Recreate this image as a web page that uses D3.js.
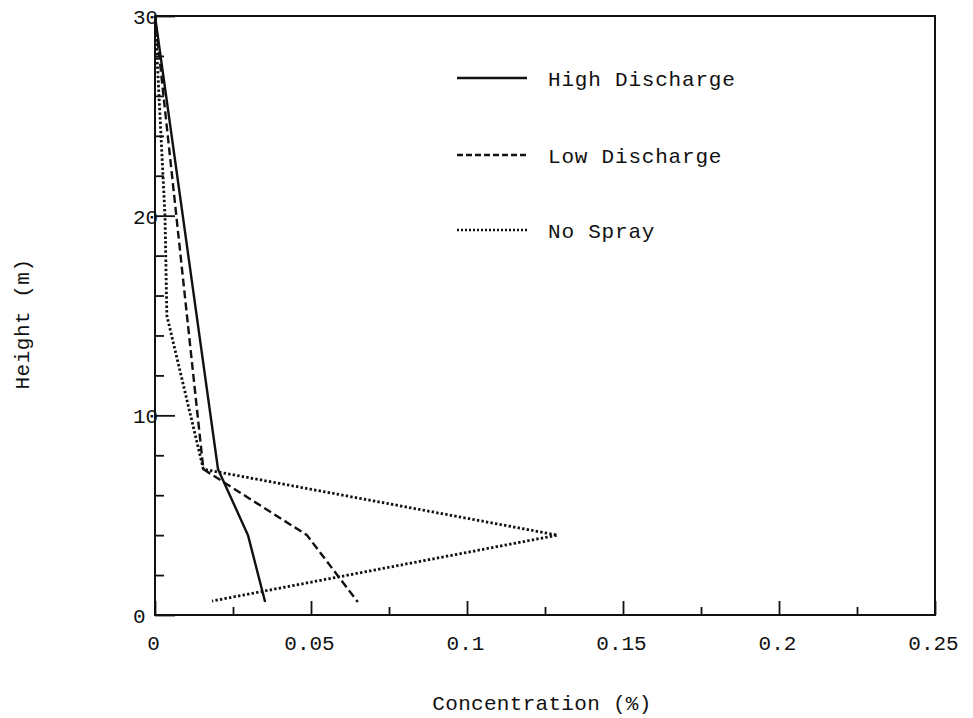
<!DOCTYPE html>
<html>
<head>
<meta charset="utf-8">
<script src="https://cdn.jsdelivr.net/npm/d3@7"></script>
<style>
  html, body { margin: 0; padding: 0; background: #fff; }
  text { font-family: "Liberation Mono", "DejaVu Sans Mono", monospace; fill: #111; }
</style>
</head>
<body>
<svg id="chart" width="973" height="718"></svg>
<script>
// ---- data ----
const seriesNames = ["High Discharge", "Low Discharge", "No Spray"];
const highConc   = [0, 0.0202, 0.0298, 0.0353];
const highHeight = [30, 7.3, 4.0, 0.65];
const lowConc    = [0, 0.0155, 0.0487, 0.065];
const lowHeight  = [30, 7.3, 4.0, 0.65];
const noConc     = [0, 0.0032, 0.0038, 0.0155, 0.129, 0.0183];
const noHeight   = [30, 20, 15, 7.3, 4.0, 0.7];
const xMajorTicks = [0, 0.05, 0.1, 0.15, 0.2, 0.25];
const xTickLabels = ["0", "0.05", "0.1", "0.15", "0.2", "0.25"];
const xMinorTicks = [0.025, 0.075, 0.125, 0.175, 0.225];
const yMajorTicks = [0, 10, 20, 30];
const yTickLabels = ["0", "10", "20", "30"];
const yMinorTicks = [2, 4, 6, 8, 12, 14, 16, 18, 22, 24, 26, 28];
const xTitle = "Concentration (%)";
const yTitle = "Height (m)";

(function () {
const svg = d3.select("#chart");
const mLeft = 155, mRight = 935, mTop = 16, mBottom = 615;
const x = d3.scaleLinear().domain([0, 0.25]).range([mLeft, mRight]);
const y = d3.scaleLinear().domain([0, 30]).range([mBottom, mTop]);

const styles = [
  { dash: null, width: 2.4 },
  { dash: "8,4", width: 2.4 },
  { dash: "2.4,2.2", width: 2.8 }
];

// frame
svg.append("rect")
  .attr("x", mLeft).attr("y", mTop)
  .attr("width", mRight - mLeft).attr("height", mBottom - mTop)
  .attr("fill", "none").attr("stroke", "#111").attr("stroke-width", 2);

// x axis
const gxMaj = svg.append("g").attr("transform", `translate(0,${mBottom})`)
  .call(d3.axisBottom(x).tickValues(xMajorTicks).tickSize(-14).tickSizeOuter(0)
        .tickFormat((d, i) => xTickLabels[i]));
const gxMin = svg.append("g").attr("transform", `translate(0,${mBottom})`)
  .call(d3.axisBottom(x).tickValues(xMinorTicks).tickSize(-8).tickSizeOuter(0).tickFormat(""));
[gxMaj, gxMin].forEach(g => {
  g.select(".domain").remove();
  g.selectAll("line").attr("stroke", "#111").attr("stroke-width", 1.8);
});
gxMaj.selectAll("text")
  .attr("y", 28).attr("dy", "0.35em").attr("x", -2)
  .style("font-size", "21px")
  .style("font-family", "'Liberation Mono', monospace")
  .attr("fill", "#111");

// y axis
const gyMaj = svg.append("g").attr("transform", `translate(${mLeft},0)`)
  .call(d3.axisLeft(y).tickValues(yMajorTicks).tickSize(-20).tickSizeOuter(0)
        .tickFormat((d, i) => yTickLabels[i]));
const gyMin = svg.append("g").attr("transform", `translate(${mLeft},0)`)
  .call(d3.axisLeft(y).tickValues(yMinorTicks).tickSize(-9).tickSizeOuter(0).tickFormat(""));
[gyMaj, gyMin].forEach(g => {
  g.select(".domain").remove();
  g.selectAll("line").attr("stroke", "#111").attr("stroke-width", 1.8);
});
gyMaj.selectAll("text")
  .attr("x", -22).attr("dy", "0.35em")
  .attr("text-anchor", "start")
  .style("font-size", "21px")
  .style("font-family", "'Liberation Mono', monospace")
  .attr("fill", "#111");

// titles
svg.append("text")
  .attr("x", (mLeft + mRight) / 2 - 3).attr("y", 703)
  .attr("dy", "0.35em").attr("text-anchor", "middle")
  .style("font-size", "21px").style("letter-spacing", "0.3px")
  .text(xTitle);
svg.append("text")
  .attr("transform", "translate(22,324) rotate(-90)")
  .attr("dy", "0.35em").attr("text-anchor", "middle")
  .style("font-size", "21px").style("letter-spacing", "0.5px")
  .text(yTitle);

// lines
const series = [
  { c: highConc, h: highHeight },
  { c: lowConc, h: lowHeight },
  { c: noConc, h: noHeight }
];
const line = d3.line().x(d => x(d[0])).y(d => y(d[1]));
series.forEach((s, i) => {
  const pts = s.c.map((c, k) => [c, s.h[k]]);
  svg.append("path")
    .attr("d", line(pts))
    .attr("fill", "none")
    .attr("stroke", "#111")
    .attr("stroke-width", styles[i].width)
    .attr("stroke-dasharray", styles[i].dash)
    .attr("stroke-linejoin", "round");
});

// legend
const legY = [78, 155, 230];
seriesNames.forEach((name, i) => {
  svg.append("line")
    .attr("x1", 457).attr("x2", 527).attr("y1", legY[i]).attr("y2", legY[i])
    .attr("stroke", "#111").attr("stroke-width", i === 2 ? 2.4 : styles[i].width)
    .attr("stroke-dasharray", i === 1 ? "6,3" : (i === 2 ? "2,2" : null));
  svg.append("text")
    .attr("x", 548).attr("y", legY[i] + 1).attr("dy", "0.35em")
    .style("font-size", "21px").style("letter-spacing", "0.8px")
    .text(name);
});
})();
</script>
</body>
</html>
